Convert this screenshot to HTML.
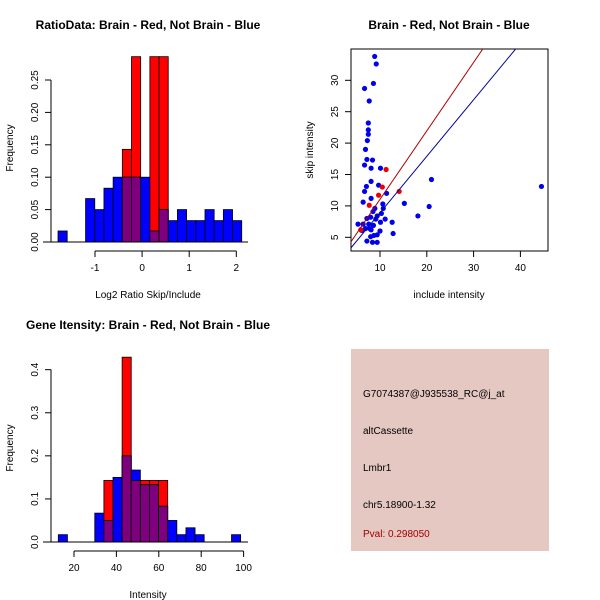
<!DOCTYPE html>
<html><head><meta charset="utf-8"><style>
body{margin:0;background:#fff}
svg{display:block;font-family:"Liberation Sans",Arial,sans-serif}
</style></head><body>
<svg id="c" width="600" height="600" viewBox="0 0 600 600">
<rect width="600" height="600" fill="#fff"/>
<text x="148" y="29" text-anchor="middle" font-size="12" font-weight="bold">RatioData: Brain - Red, Not Brain - Blue</text>
<text x="449" y="29" text-anchor="middle" font-size="12" font-weight="bold">Brain - Red, Not Brain - Blue</text>
<text x="148" y="329" text-anchor="middle" font-size="12" font-weight="bold">Gene Itensity: Brain - Red, Not Brain - Blue</text>
<text x="148" y="298" text-anchor="middle" font-size="10">Log2 Ratio Skip/Include</text>
<text x="148" y="598" text-anchor="middle" font-size="10">Intensity</text>
<text x="449" y="298" text-anchor="middle" font-size="10">include intensity</text>
<text transform="translate(13,148) rotate(-90)" text-anchor="middle" font-size="10">Frequency</text>
<text transform="translate(13,448) rotate(-90)" text-anchor="middle" font-size="10">Frequency</text>
<text transform="translate(313,150) rotate(-90)" text-anchor="middle" font-size="10">skip intensity</text>
<g id="p1"></g>
<g id="p2"></g>
<g id="p3"></g>
<g>
<rect x="351" y="349" width="198" height="202" fill="#e6c8c2"/>
<text x="363" y="397" font-size="10">G7074387@J935538_RC@j_at</text>
<text x="363" y="434" font-size="10">altCassette</text>
<text x="363" y="471" font-size="10">Lmbr1</text>
<text x="363" y="508" font-size="10">chr5.18900-1.32</text>
<text x="363" y="537" font-size="10" fill="#a00000">Pval: 0.298050</text>
</g>
</svg>
<script>
// Ratio histogram data
const ratioStart = -1.785, ratioWidth = 0.195;
const ratioBlue = [0.017,0,0,0.067,0.05,0.083,0.1,0.1,0.1,0.1,0.017,0.05,0.033,0.05,0.033,0.033,0.05,0.033,0.05,0.033];
const ratioRed  = [0,0,0,0,0,0,0,0.143,0.286,0,0.286,0.286,0,0,0,0,0,0,0,0];
const ratioYTicks = ["0.00","0.05","0.10","0.15","0.20","0.25"];
const ratioXTicks = ["-1","0","1","2"];
// Intensity histogram data
const intStart = 12.6, intWidth = 4.3;
const intBlue = [0.017,0,0,0,0.067,0.05,0.15,0.2,0.167,0.133,0.133,0.083,0.05,0.017,0.033,0.017,0,0,0,0.017];
const intRed  = [0,0,0,0,0,0.143,0,0.429,0.143,0.143,0.143,0.143,0,0,0,0,0,0,0,0];
const intYTicks = ["0.0","0.1","0.2","0.3","0.4"];
const intXTicks = ["20","40","60","80","100"];
// Scatter data
const blueX = [8.86,9.2,8.6,6.7,7.7,7.5,7.5,7.5,7.3,6.9,7.2,8.4,6.7,8.1,10.1,8.1,9.7,7.1,21.0,44.5,6.7,11.4,8.1,6.4,15.2,10.6,20.5,10.7,8.9,8.5,18.1,10.3,9.4,11.1,9.1,8.0,7.2,12.6,10.1,5.3,6.4,7.6,8.6,7.8,8.1,6.9,6.1,10.0,12.8,9.4,8.7,8.0,7.2,8.4,9.4];
const blueY = [33.8,32.6,29.5,28.7,26.7,23.2,22.1,21.4,20.4,19.0,17.4,17.3,16.5,16.0,16.0,13.9,13.3,13.1,14.2,13.1,12.3,12.0,11.2,10.6,10.4,10.3,9.9,9.6,9.6,9.1,8.4,8.8,8.4,7.9,7.9,8.2,8.0,7.4,7.4,7.1,7.1,7.1,6.9,6.4,6.2,6.4,6.1,6.0,5.6,5.4,5.3,5.1,4.4,4.2,4.2];
const redX = [11.3,10.5,9.7,14.1,7.7,5.9];
const redY = [15.8,13.0,11.7,12.3,10.1,6.2];
const scXTicks = ["10","20","30","40"];
const scYTicks = ["5","10","15","20","25","30"];
const blueFit = [0.9,-0.1];   // slope, intercept
const redFit = [1.09,0.15];

const NS="http://www.w3.org/2000/svg";
function mk(tag,attrs,parent){const e=document.createElementNS(NS,tag);for(const k in attrs)e.setAttribute(k,attrs[k]);parent.appendChild(e);return e;}

function hist(g,start,w,blue,red,sx,sy,yTicks,xTicks,xAxisY){
  for(let i=0;i<blue.length;i++){
    const x0=sx(start+i*w),x1=sx(start+(i+1)*w);
    const b=blue[i],r=red[i];
    if(r>0){const e=mk('rect',{x:x0,y:sy(r),width:x1-x0,height:sy(0)-sy(r),fill:'#ff0000',stroke:'#000','stroke-width':0.8},g);
      
      }
    if(b>0){const e=mk('rect',{x:x0,y:sy(b),width:x1-x0,height:sy(0)-sy(b),fill:'#0000ff',stroke:'#000','stroke-width':0.8},g);
      
      }
    const m=Math.min(b,r);
    if(m>0){const e=mk('rect',{x:x0,y:sy(m),width:x1-x0,height:sy(0)-sy(m),fill:'#7f007f',stroke:'#000','stroke-width':0.8},g);
      
      }
  }
  mk('line',{x1:43,x2:248,y1:sy(0),y2:sy(0),stroke:'#000','stroke-width':1},g);
  const yv=yTicks.map(Number);
  mk('line',{x1:51,x2:51,y1:sy(yv[0]),y2:sy(yv[yv.length-1]),stroke:'#000'},g);
  yTicks.forEach(t=>{const y=sy(+t);mk('line',{x1:45,x2:51,y1:y,y2:y,stroke:'#000'},g);
    const tx=mk('text',{transform:`translate(38,${y}) rotate(-90)`,'text-anchor':'middle','font-size':10},g);tx.textContent=t;
    
    });
  const xv=xTicks.map(Number);
  mk('line',{x1:sx(xv[0]),x2:sx(xv[xv.length-1]),y1:xAxisY,y2:xAxisY,stroke:'#000'},g);
  xTicks.forEach(t=>{const x=sx(+t);mk('line',{x1:x,x2:x,y1:xAxisY,y2:xAxisY+6,stroke:'#000'},g);
    const tx=mk('text',{x:x,y:xAxisY+20,'text-anchor':'middle','font-size':10},g);tx.textContent=t;
    
    });
}
hist(document.getElementById('p1'),ratioStart,ratioWidth,ratioBlue,ratioRed,
  v=>142.1+v*47.1, v=>242-v*648, ratioYTicks,ratioXTicks,251);
hist(document.getElementById('p2'),intStart,intWidth,intBlue,intRed,
  v=>74+(v-20)*2.12, v=>542-v*430.8, intYTicks,intXTicks,551);

// scatter
const g3=document.getElementById('p3');
const sx=v=>380+(v-10)*4.68, sy=v=>237.3-(v-5)*6.28;
const clip=mk('clipPath',{id:'scl'},g3);mk('rect',{x:351,y:49,width:197,height:202},clip);
mk('rect',{x:351,y:49,width:197,height:202,fill:'none',stroke:'#000'},g3);
scXTicks.forEach(t=>{const x=sx(+t);mk('line',{x1:x,x2:x,y1:251,y2:257,stroke:'#000'},g3);
  const tx=mk('text',{x:x,y:271,'text-anchor':'middle','font-size':10},g3);tx.textContent=t;
  
  });
scYTicks.forEach(t=>{const y=sy(+t);mk('line',{x1:345,x2:351,y1:y,y2:y,stroke:'#000'},g3);
  const tx=mk('text',{transform:`translate(338,${y}) rotate(-90)`,'text-anchor':'middle','font-size':10},g3);tx.textContent=t;
  
  });
const lg=mk('g',{'clip-path':'url(#scl)'},g3);
blueX.forEach((x,i)=>{const c=mk('circle',{cx:sx(x),cy:sy(blueY[i]),r:2.6,fill:'#0000ee'},lg);
  
  });
redX.forEach((x,i)=>{const c=mk('circle',{cx:sx(x),cy:sy(redY[i]),r:2.6,fill:'#ee0000'},lg);
  
  });
[[blueFit,'#000099'],[redFit,'#aa0000']].forEach(([f,col])=>{
  const l=mk('line',{x1:sx(0),y1:sy(f[1]),x2:sx(60),y2:sy(f[0]*60+f[1]),stroke:col,'stroke-width':1},lg);
  
  });
</script>
</body></html>
